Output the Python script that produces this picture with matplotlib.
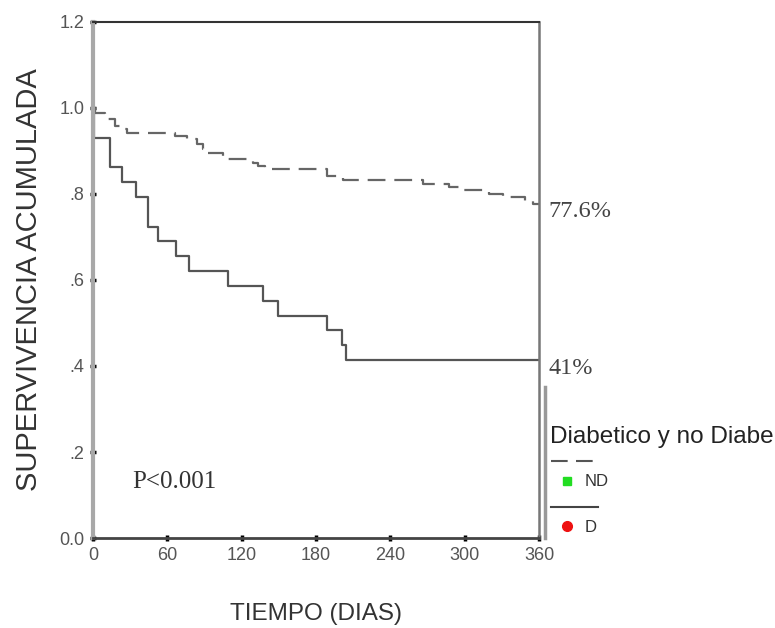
import matplotlib
matplotlib.use("Agg")
import matplotlib.pyplot as plt
from matplotlib.lines import Line2D

plt.rcParams['font.family'] = ['Liberation Sans', 'DejaVu Sans']

# curvas Kaplan-Meier (dias, supervivencia)
dias_nd = [0, 1.6, 9.7, 17.8, 23.4, 27.4, 66, 76, 84, 89, 93, 105, 129, 133, 139,
           189, 202, 266, 287, 299, 320, 331, 349, 355, 360]
surv_nd = [1.0, 0.988, 0.974, 0.958, 0.951, 0.942, 0.935, 0.928, 0.916, 0.905, 0.895,
           0.881, 0.872, 0.865, 0.858, 0.842, 0.833, 0.823, 0.816, 0.809, 0.800, 0.793,
           0.784, 0.776, 0.776]

dias_d = [0, 1, 13.7, 23.4, 34.7, 44.4, 52.5, 67, 77.5, 109, 137, 149, 189, 201, 204, 360]
surv_d = [1.0, 0.931, 0.862, 0.828, 0.793, 0.724, 0.690, 0.655, 0.621, 0.586, 0.552,
          0.517, 0.483, 0.448, 0.414, 0.414]

xticks = [0, 60, 120, 180, 240, 300, 360]
yticks = [0.0, 0.2, 0.4, 0.6, 0.8, 1.0, 1.2]
ytick_labels = ["0.0", ".2", ".4", ".6", ".8", "1.0", "1.2"]

fig = plt.figure(figsize=(7.75, 6.28), dpi=100)
ax = fig.add_axes([0.120, 0.1433, 0.5755, 0.8217])

ax.step(dias_nd, surv_nd, where='post', color='#666666', lw=1.6, linestyle=(0, (8, 4)))
ax.step(dias_d, surv_d, where='post', color='#555555', lw=1.6)

ax.set_xlim(0, 360)
ax.set_ylim(0, 1.2)
ax.set_xticks(xticks)
ax.set_xticklabels([str(v) for v in xticks])
ax.set_yticks(yticks)
ax.set_yticklabels(ytick_labels)
ax.tick_params(length=4.5, width=2.5, direction='inout', color='black',
               labelcolor='#555555', labelsize=13, pad=4)

ax.spines['left'].set_color('#a8a8a8')
ax.spines['left'].set_linewidth(3)
ax.spines['top'].set_color('#333333')
ax.spines['top'].set_linewidth(1.5)
ax.spines['right'].set_color('#777777')
ax.spines['right'].set_linewidth(1.8)
ax.spines['bottom'].set_color('#444444')
ax.spines['bottom'].set_linewidth(2)

ax.set_ylabel("SUPERVIVENCIA ACUMULADA", fontsize=21, color='#333333', labelpad=12)
ax.set_xlabel("TIEMPO (DIAS)", fontsize=17.5, color='#333333', labelpad=28)

serif = ['Liberation Serif', 'DejaVu Serif']
ax.annotate("77.6%", xy=(360, surv_nd[-1]), xytext=(7, -5), textcoords='offset points',
            va='center', ha='left', fontsize=17.5, family=serif, color='#444444',
            annotation_clip=False)
ax.annotate("41%", xy=(360, surv_d[-1]), xytext=(7, -6), textcoords='offset points',
            va='center', ha='left', fontsize=17.5, family=serif, color='#444444',
            annotation_clip=False)
ax.text(32, 0.13, "P<0.001", fontsize=18, family=serif, color='#333333', va='center')

# leyenda a la derecha
fig.add_artist(Line2D([545 / 775, 545 / 775], [1 - 387 / 628, 1 - 538 / 628],
                      color='#999999', lw=2.5))
fig.text(550 / 775, 1 - 437 / 628, "Diabetico y no Diabe", fontsize=17.5,
         color='#222222', va='center', ha='left')
fig.add_artist(Line2D([551 / 775, 600 / 775], [1 - 461 / 628, 1 - 461 / 628],
                      color='#555555', lw=1.5, linestyle=(0, (8, 4))))
fig.add_artist(Line2D([567 / 775], [1 - 481 / 628], marker='s', color='#22dd22',
                      markersize=6, lw=0))
fig.text(585 / 775, 1 - 482 / 628, "ND", fontsize=12, color='#333333', va='center')
fig.add_artist(Line2D([551 / 775, 598 / 775], [1 - 507 / 628, 1 - 507 / 628],
                      color='#444444', lw=1.5))
fig.add_artist(Line2D([567 / 775], [1 - 526 / 628], marker='o', color='#ee1111',
                      markersize=7, lw=0))
fig.text(585 / 775, 1 - 528 / 628, "D", fontsize=12, color='#333333', va='center')

fig.savefig("out.png", dpi=100)
